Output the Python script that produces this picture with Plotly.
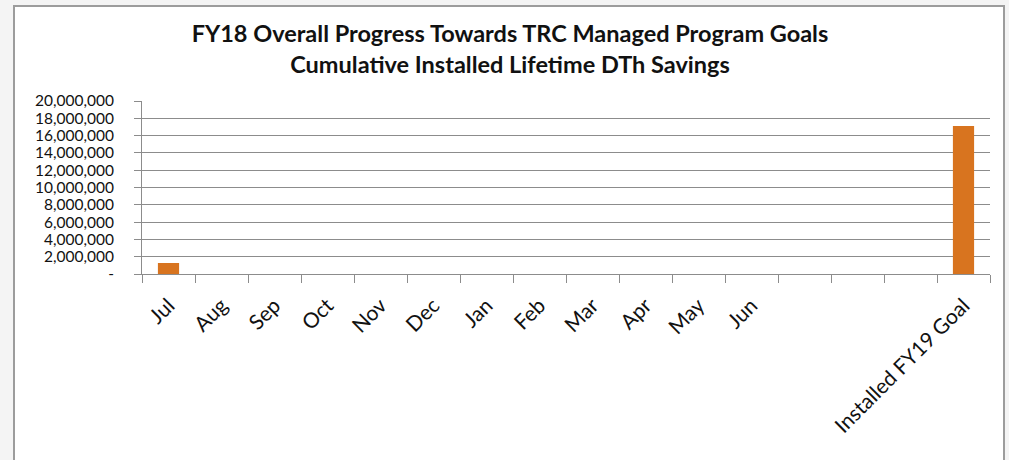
import plotly.graph_objects as go

# categories (three unlabeled slots before the goal bar)
categories = ['Jul', 'Aug', 'Sep', 'Oct', 'Nov', 'Dec', 'Jan', 'Feb', 'Mar', 'Apr', 'May', 'Jun',
              ' ', '  ', '   ', 'Installed FY19 Goal']
savings = [1270000, None, None, None, None, None, None, None, None, None, None, None,
           None, None, None, 17100000]

y_ticks = [0, 2000000, 4000000, 6000000, 8000000, 10000000, 12000000, 14000000,
           16000000, 18000000, 20000000]
y_tick_labels = ['-'] + ['{:,}'.format(v) for v in y_ticks[1:]]

fig = go.Figure()

fig.add_trace(
    go.Bar(
        x=categories,
        y=savings,
        marker=dict(color='#D8741F', line=dict(width=0)),
        hoverinfo='skip'
    )
)

# plot area: x 142..990, y 101..274 (px)
W, H = 1009, 460
l, r, t, b = 142, 19, 101, 186
pw, ph = W - l - r, H - t - b

def px_x(x):
    return (x - l) / pw

def px_y(y):
    return (H - b - y) / ph

fig.add_shape(
    type='rect', xref='paper', yref='paper', layer='below',
    x0=px_x(14), x1=px_x(1004), y0=px_y(480), y1=px_y(6),
    fillcolor='white', line=dict(color='#9c9c9c', width=2)
)

fig.update_layout(
    width=W, height=H,
    margin=dict(l=l, r=r, t=t, b=b, autoexpand=False),
    paper_bgcolor='#f4f4f4',
    plot_bgcolor='rgba(0,0,0,0)',
    bargap=0.6,
    showlegend=False,
    font=dict(family='Lato', size=16, color='#111111'),
    title=dict(
        text='<b>FY18 Overall Progress Towards TRC Managed Program Goals<br>'
             'Cumulative Installed Lifetime DTh Savings</b>',
        x=510 / W, xref='container', xanchor='center',
        y=1 - 42 / H, yref='container', yanchor='middle',
        font=dict(family='Lato', size=23.5, color='#111111')
    ),
    xaxis=dict(
        type='category',
        automargin=False,
        tickangle=-45,
        tickson='boundaries',
        ticks='outside', ticklen=8, tickcolor='#8c8c8c', tickwidth=1,
        ticklabelstandoff=10,
        showline=True, linecolor='#8c8c8c', linewidth=1,
        showgrid=False,
        tickfont=dict(family='Lato', size=21, color='#111111')
    ),
    yaxis=dict(
        automargin=False,
        range=[0, 20000000],
        tickvals=y_ticks,
        ticktext=y_tick_labels,
        ticks='outside', ticklen=7, tickcolor='#8c8c8c',
        ticklabelstandoff=17,
        showline=True, linecolor='#8c8c8c', linewidth=1,
        showgrid=True, gridcolor='#8c8c8c', gridwidth=1,
        zeroline=False,
        tickfont=dict(family='Lato', size=15.5, color='#111111')
    )
)

# drop the default page margin so the figure sits at the window's corner
fig.write_html('out.html', config={'displayModeBar': False},
               post_script="document.body.style.margin='0';")
